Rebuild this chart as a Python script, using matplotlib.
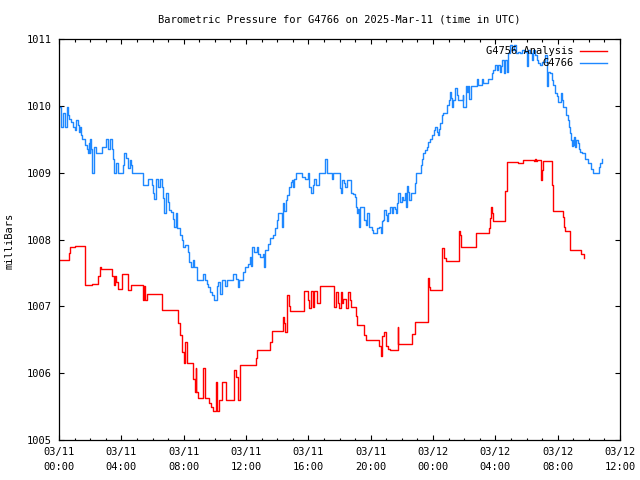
import matplotlib
matplotlib.use("Agg")
import matplotlib.pyplot as plt
import matplotlib.dates as mdates
import pandas as pd

start = pd.Timestamp("2025-03-11 00:00")

# G4766 station readings (hours after 03/11 00:00 UTC, mbar)
g4766_hours = [0.00, 0.13, 0.28, 0.39, 0.49, 0.58, 0.64, 0.77, 0.92, 1.03, 1.09, 1.20, 1.28, 1.35, 1.43, 1.50,
               1.67, 1.78, 1.84, 1.91, 1.96, 1.99, 2.05, 2.10, 2.14, 2.27, 2.39, 2.74, 3.02, 3.13, 3.27, 3.38,
               3.48, 3.55, 3.64, 3.77, 4.13, 4.19, 4.30, 4.41, 4.56, 4.62, 4.70, 5.37, 5.41, 5.73, 5.97, 6.05,
               6.12, 6.21, 6.24, 6.35, 6.48, 6.63, 6.69, 6.76, 6.87, 6.98, 7.08, 7.19, 7.33, 7.40, 7.49, 7.57,
               7.76, 7.89, 7.98, 8.09, 8.30, 8.36, 8.47, 8.62, 8.66, 8.84, 9.26, 9.37, 9.50, 9.58, 9.71, 9.84,
               9.95, 10.12, 10.22, 10.33, 10.44, 10.65, 10.76, 11.19, 11.34, 11.47, 11.57, 11.83, 11.94, 12.11,
               12.26, 12.32, 12.40, 12.53, 12.69, 12.79, 12.90, 13.11, 13.17, 13.22, 13.39, 13.54, 13.75, 13.86,
               13.97, 14.07, 14.31, 14.33, 14.39, 14.47, 14.55, 14.63, 14.76, 14.89, 14.93, 15.04, 15.10, 15.19,
               15.58, 15.79, 16.00, 16.06, 16.17, 16.28, 16.38, 16.49, 16.70, 17.07, 17.18, 17.50, 17.58, 18.03,
               18.08, 18.14, 18.31, 18.35, 18.50, 18.74, 18.89, 19.00, 19.04, 19.10, 19.17, 19.25, 19.32, 19.57,
               19.70, 19.79, 19.91, 20.07, 20.17, 20.39, 20.55, 20.64, 20.71, 20.77, 20.86, 20.98, 21.03, 21.13,
               21.24, 21.35, 21.45, 21.56, 21.63, 21.71, 21.77, 21.88, 21.99, 22.10, 22.20, 22.25, 22.35, 22.42,
               22.48, 22.57, 22.85, 22.91, 23.21, 23.28, 23.38, 23.49, 23.60, 23.70, 23.81, 23.92, 24.06, 24.13,
               24.24, 24.34, 24.40, 24.45, 24.56, 24.66, 24.92, 25.05, 25.09, 25.16, 25.22, 25.26, 25.41, 25.52,
               25.62, 25.91, 25.95, 26.12, 26.20, 26.27, 26.33, 26.42, 26.80, 26.84, 26.91, 27.13, 27.21, 27.55,
               27.77, 27.87, 27.98, 28.09, 28.19, 28.30, 28.36, 28.45, 28.58, 28.62, 28.73, 28.83, 28.94, 29.05,
               29.22, 29.31, 29.48, 29.58, 29.69, 29.90, 30.01, 30.08, 30.22, 30.33, 30.44, 30.55, 30.65, 30.76,
               30.87, 30.98, 31.19, 31.30, 31.40, 31.51, 31.62, 31.72, 31.83, 31.94, 32.04, 32.21, 32.30, 32.36,
               32.52, 32.64, 32.73, 32.79, 32.86, 32.90, 32.97, 33.00, 33.07, 33.11, 33.18, 33.29, 33.37, 33.44,
               33.54, 33.75, 33.97, 34.14, 34.29, 34.57, 34.65, 34.72, 34.83]
g4766_mbar = [1009.99, 1009.69, 1009.89, 1009.69, 1009.99, 1009.86, 1009.81, 1009.76, 1009.69, 1009.64, 1009.79,
              1009.71, 1009.61, 1009.69, 1009.57, 1009.50, 1009.41, 1009.35, 1009.29, 1009.44, 1009.29, 1009.50,
              1009.35, 1009.14, 1008.99, 1009.39, 1009.29, 1009.39, 1009.50, 1009.36, 1009.51, 1009.36, 1009.21,
              1008.99, 1009.14, 1008.99, 1009.11, 1009.29, 1009.22, 1009.07, 1009.19, 1009.11, 1008.99, 1008.86,
              1008.81, 1008.90, 1008.81, 1008.69, 1008.61, 1008.74, 1008.90, 1008.79, 1008.90, 1008.79, 1008.62,
              1008.39, 1008.69, 1008.56, 1008.44, 1008.41, 1008.31, 1008.19, 1008.39, 1008.17, 1008.07, 1007.99,
              1007.89, 1007.92, 1007.82, 1007.67, 1007.59, 1007.69, 1007.59, 1007.39, 1007.49, 1007.39, 1007.34,
              1007.29, 1007.22, 1007.17, 1007.09, 1007.31, 1007.36, 1007.19, 1007.39, 1007.30, 1007.39, 1007.49,
              1007.41, 1007.29, 1007.39, 1007.52, 1007.59, 1007.64, 1007.74, 1007.60, 1007.89, 1007.82, 1007.89,
              1007.79, 1007.74, 1007.79, 1007.59, 1007.84, 1007.94, 1008.02, 1008.07, 1008.17, 1008.29, 1008.40,
              1008.37, 1008.19, 1008.54, 1008.42, 1008.59, 1008.67, 1008.79, 1008.86, 1008.89, 1008.79, 1008.90,
              1008.99, 1008.94, 1008.90, 1008.99, 1008.79, 1008.70, 1008.81, 1008.90, 1008.81, 1008.99, 1009.20,
              1008.99, 1008.90, 1008.99, 1008.77, 1008.70, 1008.89, 1008.84, 1008.79, 1008.89, 1008.69, 1008.68,
              1008.64, 1008.49, 1008.39, 1008.46, 1008.19, 1008.49, 1008.29, 1008.22, 1008.39, 1008.19, 1008.14,
              1008.09, 1008.17, 1008.19, 1008.09, 1008.27, 1008.29, 1008.44, 1008.36, 1008.27, 1008.39, 1008.49,
              1008.39, 1008.49, 1008.46, 1008.39, 1008.54, 1008.69, 1008.56, 1008.64, 1008.59, 1008.69, 1008.49,
              1008.80, 1008.71, 1008.59, 1008.69, 1008.84, 1008.99, 1009.11, 1009.21, 1009.29, 1009.34, 1009.39,
              1009.46, 1009.50, 1009.56, 1009.64, 1009.69, 1009.61, 1009.56, 1009.66, 1009.74, 1009.86, 1009.89,
              1010.01, 1010.09, 1010.21, 1010.11, 1009.99, 1010.09, 1010.26, 1010.16, 1010.09, 1010.16, 1009.99,
              1010.29, 1010.21, 1010.29, 1010.10, 1010.30, 1010.36, 1010.40, 1010.31, 1010.40, 1010.34, 1010.40,
              1010.49, 1010.54, 1010.61, 1010.54, 1010.61, 1010.51, 1010.59, 1010.69, 1010.49, 1010.69, 1010.51,
              1010.79, 1010.91, 1010.84, 1010.91, 1010.79, 1010.81, 1010.79, 1010.84, 1010.81, 1010.59, 1010.84,
              1010.79, 1010.69, 1010.84, 1010.76, 1010.69, 1010.64, 1010.61, 1010.66, 1010.76, 1010.29, 1010.51,
              1010.49, 1010.39, 1010.31, 1010.19, 1010.14, 1010.06, 1010.19, 1010.09, 1009.99, 1009.86, 1009.79,
              1009.69, 1009.59, 1009.49, 1009.40, 1009.49, 1009.41, 1009.54, 1009.39, 1009.49, 1009.44, 1009.36,
              1009.31, 1009.29, 1009.21, 1009.14, 1009.06, 1009.00, 1009.00, 1009.09, 1009.14, 1009.21]

# G4756 analysis values
g4756_hours = [0.00, 0.53, 0.64, 0.71, 1.00, 1.54, 1.67, 2.10, 2.48, 2.63, 2.70, 3.38, 3.50, 3.59, 3.66, 3.79,
               4.02, 4.34, 4.43, 4.62, 5.31, 5.39, 5.45, 5.52, 5.65, 6.55, 6.61, 7.55, 7.64, 7.76, 7.89, 7.99,
               8.09, 8.22, 8.52, 8.60, 8.73, 8.77, 8.82, 8.89, 9.24, 9.37, 9.63, 9.75, 9.88, 10.06, 10.14, 10.27,
               10.44, 10.72, 11.23, 11.36, 11.49, 11.62, 12.62, 12.69, 13.54, 13.69, 14.37, 14.44, 14.50, 14.65,
               14.73, 14.82, 15.72, 15.95, 16.04, 16.17, 16.28, 16.39, 16.56, 16.73, 17.60, 17.65, 17.78, 17.90,
               17.99, 18.10, 18.16, 18.23, 18.40, 18.57, 18.67, 18.74, 19.06, 19.10, 19.57, 19.70, 20.54, 20.64,
               20.75, 20.86, 20.98, 21.11, 21.24, 21.73, 21.77, 22.67, 22.85, 23.65, 23.70, 23.74, 23.81, 24.56,
               24.71, 24.84, 25.65, 25.69, 25.73, 25.80, 26.74, 26.78, 27.60, 27.66, 27.72, 27.77, 27.83, 28.64,
               28.73, 29.44, 29.76, 30.46, 30.55, 30.61, 30.67, 30.91, 30.98, 31.08, 31.66, 31.72, 32.34, 32.41,
               32.47, 32.77, 32.79, 33.48, 33.66]
g4756_mbar = [1007.70, 1007.70, 1007.80, 1007.89, 1007.91, 1007.91, 1007.32, 1007.33, 1007.46, 1007.59, 1007.56,
              1007.45, 1007.32, 1007.45, 1007.36, 1007.26, 1007.48, 1007.48, 1007.24, 1007.32, 1007.32, 1007.09,
              1007.30, 1007.09, 1007.19, 1007.19, 1006.94, 1006.94, 1006.75, 1006.57, 1006.32, 1006.15, 1006.47,
              1006.15, 1006.15, 1005.92, 1005.72, 1006.08, 1005.72, 1005.63, 1006.08, 1005.63, 1005.55, 1005.50,
              1005.43, 1005.87, 1005.43, 1005.60, 1005.87, 1005.60, 1006.05, 1005.95, 1005.60, 1006.12, 1006.22,
              1006.35, 1006.47, 1006.63, 1006.84, 1006.75, 1006.62, 1007.17, 1007.00, 1006.93, 1007.23, 1007.09,
              1006.98, 1007.23, 1006.99, 1007.23, 1007.05, 1007.30, 1007.30, 1006.99, 1007.22, 1007.05, 1006.97,
              1007.22, 1007.05, 1007.11, 1006.97, 1007.22, 1007.09, 1006.99, 1006.86, 1006.72, 1006.57, 1006.50,
              1006.40, 1006.25, 1006.55, 1006.62, 1006.40, 1006.36, 1006.34, 1006.69, 1006.44, 1006.59, 1006.77,
              1007.07, 1007.42, 1007.29, 1007.25, 1007.87, 1007.72, 1007.68, 1007.89, 1008.13, 1008.06, 1007.89,
              1008.03, 1008.09, 1008.17, 1008.32, 1008.48, 1008.39, 1008.28, 1008.73, 1009.16, 1009.15, 1009.19,
              1009.17, 1009.20, 1009.17, 1009.19, 1008.89, 1009.04, 1009.18, 1008.82, 1008.43, 1008.34, 1008.19,
              1008.13, 1007.99, 1007.84, 1007.79, 1007.73]

mono = "DejaVu Sans Mono"
plt.rcParams["font.family"] = mono
plt.rcParams["font.size"] = 7.5

t_blue = start + pd.to_timedelta(g4766_hours, unit="h")
t_red = start + pd.to_timedelta(g4756_hours, unit="h")

fig = plt.figure(figsize=(6.4, 4.8), dpi=100)
ax = fig.add_axes([59 / 640, 1 - 440 / 480, 561 / 640, 401 / 480])

ax.plot(t_red, g4756_mbar, color="#ff0000", lw=1.0, drawstyle="steps-post", label="G4756 Analysis")
ax.plot(t_blue, g4766_mbar, color="#1e88ff", lw=1.0, drawstyle="steps-post", label="G4766")

ax.set_xlim(start, start + pd.Timedelta(hours=36))
ax.set_ylim(1005, 1011)
ax.set_yticks(range(1005, 1012))

ax.xaxis.set_major_locator(mdates.HourLocator(byhour=[0, 4, 8, 12, 16, 20]))
ax.xaxis.set_minor_locator(mdates.HourLocator())
ax.xaxis.set_major_formatter(mdates.DateFormatter("%m/%d\n%H:%M"))

ax.tick_params(which="both", direction="in", top=True, right=True, width=0.8, colors="black")
ax.tick_params(which="major", length=3.6, pad=5)
ax.tick_params(which="minor", length=1.8)
for lbl in ax.get_xticklabels():
    lbl.set_linespacing(1.6)
for sp in ax.spines.values():
    sp.set_linewidth(0.9)

# legend sits inside, top right, text before the line sample
leg = ax.legend(loc="upper right", bbox_to_anchor=(1 - 6 / 561, 1), frameon=False, markerfirst=False,
                handlelength=2.6, borderaxespad=0.3, labelspacing=0.2, handletextpad=0.6)

fig.text(339 / 640, 1 - 19 / 480, "Barometric Pressure for G4766 on 2025-Mar-11 (time in UTC)",
         ha="center", va="center")
fig.text(10 / 640, 1 - 241 / 480, "milliBars", rotation=90, ha="center", va="center")

fig.savefig("out.png", dpi=100)
